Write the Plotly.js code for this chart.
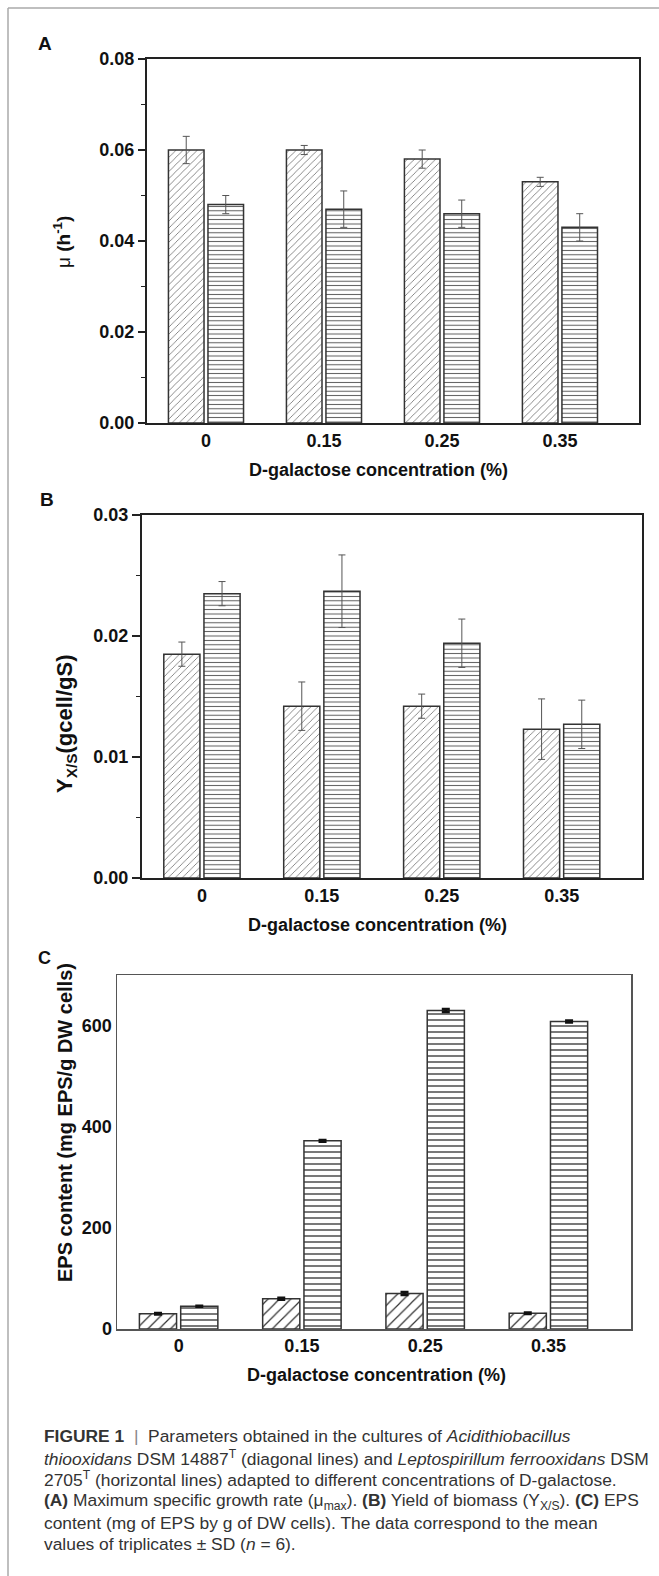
<!DOCTYPE html>
<html>
<head>
<meta charset="utf-8">
<script src="https://cdn.plot.ly/plotly-3.0.1.min.js"></script>
<style>
  html, body { margin: 0; padding: 0; background: #fff; }
  #chart { width: 659px; height: 1576px; }
</style>
</head>
<body>
<div id="chart"></div>
<script>
// ---------- data ----------
const categories = ['0', '0.15', '0.25', '0.35'];

// Panel A: maximum specific growth rate (h^-1)
const muThio = [0.060, 0.060, 0.058, 0.053];
const muThioErr = [0.003, 0.001, 0.002, 0.001];
const muLepto = [0.048, 0.047, 0.046, 0.043];
const muLeptoErr = [0.002, 0.004, 0.003, 0.003];

// Panel B: biomass yield (gcell/gS)
const yieldThio = [0.0185, 0.0142, 0.0142, 0.0123];
const yieldThioErr = [0.0010, 0.0020, 0.0010, 0.0025];
const yieldLepto = [0.0235, 0.0237, 0.0194, 0.0127];
const yieldLeptoErr = [0.0010, 0.0030, 0.0020, 0.0020];

// Panel C: EPS content (mg EPS/g DW cells)
const epsThio = [30, 60, 70, 31];
const epsThioErr = [1.5, 2, 3, 1.5];
const epsLepto = [45, 372, 630, 608];
const epsLeptoErr = [1, 1.5, 3, 2];

// ---------- layout helpers ----------
const W = 659, H = 1576;
const px = v => v / W;
const py = v => 1 - v / H;
const FONT = 'Liberation Sans, Arial, sans-serif';

function diagBar(x, y, err, xa, ya, size, sol, col, errStyle) {
  return {
    type: 'bar', x: x, y: y, xaxis: xa, yaxis: ya, showlegend: false,
    marker: { color: 'white', line: { color: '#333', width: 1.5 },
      pattern: { shape: '/', size: size, solidity: sol, fgcolor: col, bgcolor: 'white' } },
    error_y: Object.assign({ type: 'data', array: err, visible: true }, errStyle)
  };
}
function horzBar(x, y, err, xa, ya, size, sol, col, errStyle) {
  return {
    type: 'bar', x: x, y: y, xaxis: xa, yaxis: ya, showlegend: false,
    marker: { color: 'white', line: { color: '#333', width: 1.5 },
      pattern: { shape: '-', size: size, solidity: sol, fgcolor: col, bgcolor: 'white' } },
    error_y: Object.assign({ type: 'data', array: err, visible: true }, errStyle)
  };
}
const thinErr = { color: '#555', thickness: 1, width: 3.5 };
const thickErr = { color: '#111', thickness: 2.5, width: 4 };

const traces = [
  diagBar(categories, muThio, muThioErr, 'x', 'y', 5, 0.15, '#666', thinErr),
  horzBar(categories, muLepto, muLeptoErr, 'x', 'y', 4.4, 0.22, '#555', thinErr),
  diagBar(categories, yieldThio, yieldThioErr, 'x2', 'y2', 5, 0.15, '#666', thinErr),
  horzBar(categories, yieldLepto, yieldLeptoErr, 'x2', 'y2', 4.4, 0.22, '#555', thinErr),
  diagBar(categories, epsThio, epsThioErr, 'x3', 'y3', 8, 0.15, '#333', thickErr),
  horzBar(categories, epsLepto, epsLeptoErr, 'x3', 'y3', 6, 0.22, '#333', thickErr)
];

function xAxis(left, right, anchor, lw, lc) {
  return {
    domain: [px(left), px(right)], anchor: anchor, type: 'category',
    range: [-0.5, 3.67], showline: true, linewidth: lw, linecolor: lc, mirror: true,
    ticks: '', showgrid: false, zeroline: false, fixedrange: true,
    tickfont: { family: FONT, size: 18, color: '#111', weight: 'bold' }
  };
}
function yAxis(top, bottom, anchor, opts, lw, lc) {
  return Object.assign({
    domain: [py(bottom), py(top)], anchor: anchor,
    showline: true, linewidth: lw, linecolor: lc, mirror: true,
    showgrid: false, zeroline: false, fixedrange: true,
    tickfont: { family: FONT, size: 18, color: '#111', weight: 'bold' }
  }, opts);
}

const captionLines = [
  '<b>FIGURE 1</b>  <span style="color:#888">|</span>  Parameters obtained in the cultures of <i>Acidithiobacillus</i>',
  '<i>thiooxidans</i> DSM 14887<sup>T</sup> (diagonal lines) and <i>Leptospirillum ferrooxidans</i> DSM',
  '2705<sup>T</sup> (horizontal lines) adapted to different concentrations of D-galactose.',
  '<b>(A)</b> Maximum specific growth rate (μ<sub>max</sub>). <b>(B)</b> Yield of biomass (Y<sub>X/S</sub>). <b>(C)</b> EPS',
  'content (mg of EPS by g of DW cells). The data correspond to the mean',
  'values of triplicates ± SD (<i>n</i> = 6).'
];
const captionY = [1436, 1458, 1479, 1501, 1523, 1544];

const annotations = [];
function ann(text, x, y, size, extra) {
  annotations.push(Object.assign({
    text: text, xref: 'paper', yref: 'paper', x: px(x), y: py(y),
    showarrow: false, xanchor: 'center', yanchor: 'middle',
    font: { family: FONT, size: size, color: '#111' }
  }, extra || {}));
}
// panel letters
ann('<b>A</b>', 45, 43, 19);
ann('<b>B</b>', 47, 499, 19);
ann('<b>C</b>', 45, 958, 18);
// x titles
ann('<b>D-galactose concentration (%)</b>', 378, 470, 18);
ann('<b>D-galactose concentration (%)</b>', 377, 925, 18);
ann('<b>D-galactose concentration (%)</b>', 376, 1375, 18);
// y titles
ann('μ <b>(h<sup>-1</sup>)</b>', 62, 242, 19, { textangle: -90 });
ann('<b>Y<sub>X/S</sub>(gcell/gS)</b>', 66, 724, 22, { textangle: -90 });
ann('<b>EPS content (mg EPS/g DW cells)</b>', 65, 1123, 20, { textangle: -90 });
// caption
captionLines.forEach((t, i) => {
  ann(t, 42, captionY[i], 17.4, { xanchor: 'left', align: 'left',
    font: { family: FONT, size: 17.4, color: '#333' } });
});

const layout = {
  width: W, height: H,
  margin: { l: 0, r: 0, t: 0, b: 0 },
  paper_bgcolor: 'white', plot_bgcolor: 'white',
  barmode: 'group', bargap: 0.33, bargroupgap: 0.1,
  showlegend: false,
  xaxis: xAxis(147, 639, 'y', 2, '#222'),
  yaxis: yAxis(59, 423, 'x', {
    range: [0, 0.08], dtick: 0.02, tickformat: '.2f',
    ticks: 'outside', ticklen: 7, tickwidth: 1.5, tickcolor: '#222',
    minor: { ticks: 'outside', ticklen: 4, dtick: 0.01, tickwidth: 1.5, tickcolor: '#222' }
  }, 2, '#222'),
  xaxis2: xAxis(142, 642, 'y2', 2, '#222'),
  yaxis2: yAxis(515, 878, 'x2', {
    range: [0, 0.03], dtick: 0.01, tickformat: '.2f',
    ticks: 'outside', ticklen: 8, tickwidth: 1.5, tickcolor: '#222',
    minor: { ticks: 'outside', ticklen: 4, dtick: 0.005, tickwidth: 1.5, tickcolor: '#222' }
  }, 2, '#222'),
  xaxis3: xAxis(117, 631, 'y3', 1.5, '#555'),
  yaxis3: yAxis(975, 1329, 'x3', {
    range: [0, 700], dtick: 200, tickformat: 'd', ticks: ''
  }, 1.5, '#555'),
  annotations: annotations,
  shapes: [
    { type: 'line', xref: 'paper', yref: 'paper', x0: px(8), x1: 1, y0: py(8), y1: py(8),
      line: { color: '#aaa', width: 1.5 } },
    { type: 'line', xref: 'paper', yref: 'paper', x0: px(8), x1: px(8), y0: py(8), y1: 0,
      line: { color: '#aaa', width: 1.5 } }
  ]
};

Plotly.newPlot('chart', traces, layout, { staticPlot: true, displayModeBar: false });
</script>
</body>
</html>
